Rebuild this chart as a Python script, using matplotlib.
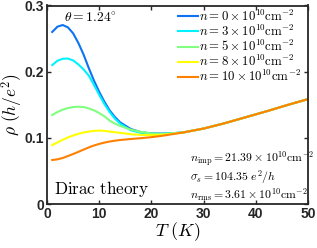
import matplotlib
matplotlib.use("Agg")
import matplotlib.pyplot as plt

plt.rcParams['mathtext.fontset'] = 'cm'
plt.rcParams['font.family'] = ['Liberation Sans', 'DejaVu Sans']

T = [1, 2, 3, 4, 5, 6, 7, 8, 9, 10, 11, 12, 13, 14, 16, 18, 20, 22, 24,
     26, 28, 30, 32, 34, 36, 38, 40, 42, 44, 46, 48, 50]

tail = [0.108, 0.111, 0.114, 0.118, 0.122, 0.1265, 0.131, 0.1355, 0.140,
        0.1447, 0.1495, 0.154, 0.1585]

rho_n0 = [0.260, 0.268, 0.2705, 0.267, 0.258, 0.2435, 0.226, 0.2055, 0.1865,
          0.1695, 0.1545, 0.1415, 0.1315, 0.1235, 0.1135, 0.1085, 0.1067,
          0.1065, 0.107] + tail
rho_n3 = [0.210, 0.2165, 0.2195, 0.2198, 0.217, 0.211, 0.2035, 0.194, 0.180,
          0.165, 0.151, 0.139, 0.129, 0.1215, 0.1115, 0.1075, 0.106,
          0.106, 0.107] + tail
rho_n5 = [0.1345, 0.139, 0.1425, 0.145, 0.1465, 0.147, 0.1465, 0.1445, 0.1415,
          0.1375, 0.1325, 0.126, 0.1215, 0.118, 0.1125, 0.109, 0.1065,
          0.106, 0.1067] + tail
rho_n8 = [0.089, 0.093, 0.097, 0.1005, 0.1035, 0.106, 0.108, 0.1095, 0.1105,
          0.111, 0.1105, 0.1095, 0.1085, 0.1075, 0.1055, 0.1045, 0.104,
          0.1045, 0.106] + tail
rho_n10 = [0.0665, 0.0675, 0.0695, 0.0725, 0.0755, 0.0788, 0.0822, 0.0855,
           0.0884, 0.0908, 0.0928, 0.0944, 0.0957, 0.0967, 0.0982, 0.0995,
           0.101, 0.103, 0.1055] + tail

series = [rho_n0, rho_n3, rho_n5, rho_n8, rho_n10]
labels = [r'$n = 0\times 10^{10}\mathrm{cm}^{-2}$',
          r'$n = 3\times 10^{10}\mathrm{cm}^{-2}$',
          r'$n = 5\times 10^{10}\mathrm{cm}^{-2}$',
          r'$n = 8\times 10^{10}\mathrm{cm}^{-2}$',
          r'$n = 10\times 10^{10}\mathrm{cm}^{-2}$']
colors = [(0.05, 0.45, 0.95), (0.0, 0.95, 1.0), (0.5, 1.0, 0.5),
          (1.0, 1.0, 0.0), (1.0, 0.5, 0.0)]

xticks = [0, 10, 20, 30, 40, 50]
yticks = [0, 0.1, 0.2, 0.3]
yticklabels = ['0', '0.1', '0.2', '0.3']

fig = plt.figure(figsize=(3.17, 2.48), dpi=100)
ax = fig.add_axes([47/317, 44/248, 261/317, 198.5/248])

for y, lab, c in zip(series, labels, colors):
    ax.plot(T, y, color=c, lw=1.5, label=lab)

ax.set_xlim(0, 50)
ax.set_ylim(0, 0.3)
ax.set_xticks(xticks)
ax.set_yticks(yticks)
ax.set_yticklabels(yticklabels)
dark = '#262626'
ax.tick_params(direction='in', top=True, right=True, length=3, width=1,
               colors=dark, labelsize=10, pad=2)
for lbl in ax.get_xticklabels() + ax.get_yticklabels():
    lbl.set_fontweight('bold')
for s in ax.spines.values():
    s.set_linewidth(1.3)
    s.set_color(dark)

ax.set_xlabel(r'$T\ (K)$', fontsize=13, labelpad=0)
ax.set_ylabel(r'$\rho\ (h/e^2)$', fontsize=12.5, labelpad=0)

leg = ax.legend(loc='upper left', bbox_to_anchor=(0.50, 0.985), frameon=False,
                fontsize=9.2, handlelength=1.6, handletextpad=0.1,
                labelspacing=0.0, borderpad=0, borderaxespad=0)

ax.text(0.065, 0.935, r'$\theta = 1.24^{\circ}$', transform=ax.transAxes,
        fontsize=9.8, va='center', ha='left')
ax.text(0.027, 0.075, r'$\mathrm{Dirac\ theory}$', transform=ax.transAxes,
        fontsize=12.3, va='center', ha='left')
ax.text(0.549, 0.14,
        r'$n_{\mathrm{imp}} = 21.39\times 10^{10}\mathrm{cm}^{-2}$' + '\n'
        + r'$\sigma_s = 104.35\ e^2/h$' + '\n'
        + r'$n_{\mathrm{rms}} = 3.61\times 10^{10}\mathrm{cm}^{-2}$',
        transform=ax.transAxes, fontsize=8.5, va='center', ha='left',
        linespacing=1.0)

fig.savefig('out.png', dpi=100)
